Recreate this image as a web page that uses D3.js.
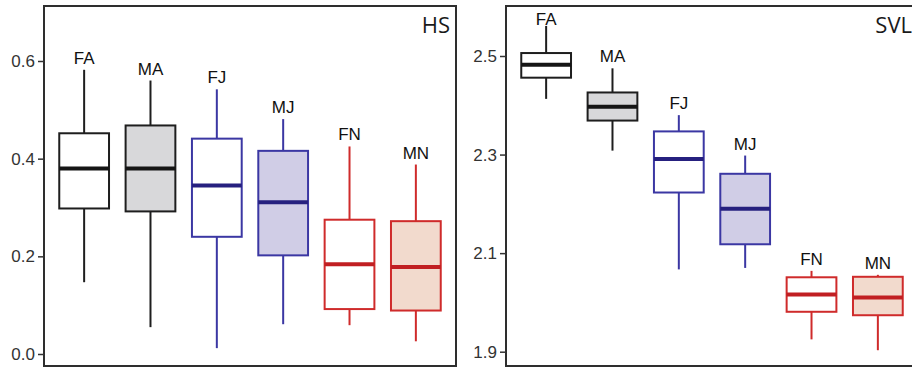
<!DOCTYPE html>
<html>
<head>
<meta charset="utf-8">
<script src="https://cdn.jsdelivr.net/npm/d3@7"></script>
<style>
  body { margin: 0; background: #fff; }
  svg { display: block; }
</style>
</head>
<body>
<script>

// data //
const groups = ["FA", "MA", "FJ", "MJ", "FN", "MN"];

// HS box values
const hsLow    = [0.147, 0.055, 0.012, 0.061, 0.059, 0.026];
const hsQ1     = [0.298, 0.292, 0.240, 0.202, 0.092, 0.089];
const hsMedian = [0.380, 0.380, 0.345, 0.311, 0.184, 0.178];
const hsQ3     = [0.452, 0.468, 0.441, 0.416, 0.275, 0.272];
const hsHigh   = [0.582, 0.560, 0.542, 0.481, 0.425, 0.388];
const hsTicks  = [0.0, 0.2, 0.4, 0.6];

// SVL box values
const svlLow    = [2.413, 2.308, 2.067, 2.070, 1.925, 1.903];
const svlQ1     = [2.456, 2.369, 2.223, 2.118, 1.981, 1.974];
const svlMedian = [2.482, 2.397, 2.291, 2.190, 2.016, 2.010];
const svlQ3     = [2.506, 2.426, 2.347, 2.261, 2.051, 2.052];
const svlHigh   = [2.561, 2.475, 2.380, 2.298, 2.064, 2.056];
const svlTicks  = [1.9, 2.1, 2.3, 2.5];

// colours per group //
const strokeColors = ["#1e1e1e", "#1e1e1e", "#3b37a3", "#3b37a3", "#cf2b2b", "#cf2b2b"];
const medianColors = ["#151515", "#151515", "#26207f", "#26207f", "#c11f22", "#c11f22"];
const fillColors   = ["#ffffff", "#d8d8da", "#ffffff", "#d0cde6", "#ffffff", "#f2dacd"];

const W = 912, H = 369;

const svg = d3.select("body")
  .append("svg")
  .attr("width", W)
  .attr("height", H);

function drawPanel(opts) {
  const rows = groups.map((g, i) => ({
    name: g,
    low: opts.low[i], q1: opts.q1[i], med: opts.median[i], q3: opts.q3[i], high: opts.high[i],
    stroke: strokeColors[i], median: medianColors[i], fill: fillColors[i]
  }));

  let x = d3.scaleBand()
    .domain(groups)
    .range([opts.left, opts.right])
    .paddingInner(0.25)
    .paddingOuter(0.23);

  let y = d3.scaleLinear()
    .domain(opts.domain)
    .range(opts.yRange);

  let g = svg.append("g");

  // frame
  g.append("rect")
    .attr("x", opts.left)
    .attr("y", opts.top)
    .attr("width", opts.right - opts.left)
    .attr("height", opts.bottom - opts.top)
    .attr("fill", "none")
    .attr("stroke", "#2e2e2e")
    .attr("stroke-width", 2);

  // y axis
  let ax = g.append("g")
    .attr("transform", "translate(" + opts.left + ",0)")
    .call(d3.axisLeft(y).tickValues(opts.ticks).tickFormat(d3.format(".1f")).tickSize(6).tickPadding(3));
  ax.select(".domain").remove();
  ax.selectAll(".tick line").attr("stroke", "#333").attr("stroke-width", 1.5);
  ax.selectAll(".tick text")
    .attr("fill", "#333")
    .style("font-family", "'Liberation Sans', Arial, sans-serif")
    .style("font-size", "17px");

  const cx = d => x(d.name) + x.bandwidth() / 2;

  let box = g.selectAll(".box")
    .data(rows)
    .enter()
    .append("g")
    .attr("class", "box");

  // whiskers
  box.append("line")
    .attr("x1", cx).attr("x2", cx)
    .attr("y1", d => y(d.high)).attr("y2", d => y(d.q3))
    .attr("stroke", d => d.stroke)
    .attr("stroke-width", 2);
  box.append("line")
    .attr("x1", cx).attr("x2", cx)
    .attr("y1", d => y(d.q1)).attr("y2", d => y(d.low))
    .attr("stroke", d => d.stroke)
    .attr("stroke-width", 2);

  // box
  box.append("rect")
    .attr("x", d => x(d.name))
    .attr("width", x.bandwidth())
    .attr("y", d => y(d.q3))
    .attr("height", d => y(d.q1) - y(d.q3))
    .attr("fill", d => d.fill)
    .attr("stroke", d => d.stroke)
    .attr("stroke-width", 2);

  // median
  box.append("line")
    .attr("x1", d => x(d.name)).attr("x2", d => x(d.name) + x.bandwidth())
    .attr("y1", d => y(d.med)).attr("y2", d => y(d.med))
    .attr("stroke", d => d.median)
    .attr("stroke-width", 4);

  // group label
  box.append("text")
    .attr("x", cx)
    .attr("y", d => Math.max(y(d.high) - 6, opts.top + 19))
    .attr("text-anchor", "middle")
    .attr("fill", "#111")
    .style("font-family", "'Liberation Sans', Arial, sans-serif")
    .style("font-size", "17px")
    .text(d => d.name);

  // panel title
  g.append("text")
    .attr("x", opts.right - 6)
    .attr("y", 33)
    .attr("text-anchor", "end")
    .attr("fill", "#1a1a1a")
    .style("font-family", "'Open Sans', sans-serif")
    .style("font-size", "22px")
    .text(opts.title);
}

drawPanel({
  title: "HS", left: 44, right: 456, top: 6, bottom: 366,
  domain: [0, 0.6], yRange: [354, 61], ticks: hsTicks,
  low: hsLow, q1: hsQ1, median: hsMedian, q3: hsQ3, high: hsHigh
});

drawPanel({
  title: "SVL", left: 506, right: 918, top: 6, bottom: 366,
  domain: [1.9, 2.5], yRange: [351.7, 56], ticks: svlTicks,
  low: svlLow, q1: svlQ1, median: svlMedian, q3: svlQ3, high: svlHigh
});

</script>
</body>
</html>
